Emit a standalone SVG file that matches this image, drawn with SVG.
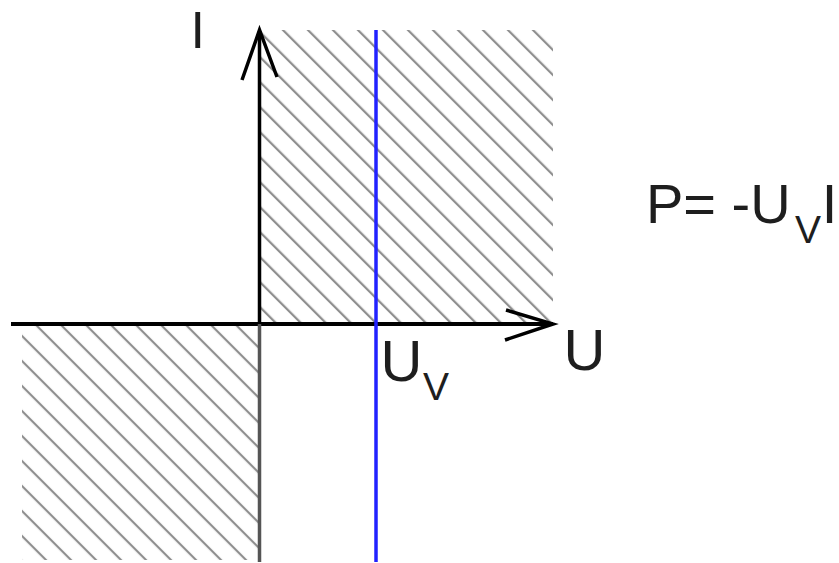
<svg xmlns="http://www.w3.org/2000/svg" width="839" height="563" viewBox="0 0 839 563">
  <style>
    .lbl { font-family: "Liberation Sans", Arial, sans-serif; fill: #1e1e1e; }
    .axis { stroke: #000; fill: none; }
  </style>
  <defs>
    <pattern id="hatchA" patternUnits="userSpaceOnUse" width="17.68" height="17.68" patternTransform="rotate(-45)">
      <rect x="1.0" y="0" width="2.2" height="17.68" fill="#8c8c8c"/>
    </pattern>
    <pattern id="hatchB" patternUnits="userSpaceOnUse" width="17.68" height="17.68" patternTransform="rotate(-45)">
      <rect x="6.7" y="0" width="2.2" height="17.68" fill="#8c8c8c"/>
    </pattern>
  </defs>
  <rect width="839" height="563" fill="#fff"/>

  <g id="region-q1">
    <rect x="259" y="30" width="294" height="294" fill="url(#hatchA)"/>
  </g>
  <g id="region-q3">
    <rect x="22" y="326" width="237" height="234" fill="url(#hatchB)"/>
  </g>

  <g id="connectors">
    <line id="u-axis" class="axis" x1="11" y1="324" x2="553" y2="324" stroke-width="4"/>
    <polyline class="axis" points="506,310 553,324 505,340" stroke-width="3.5"/>
    <line id="i-axis" class="axis" x1="259.5" y1="31" x2="259.5" y2="324" stroke-width="3.5"/>
    <line id="i-axis-neg" x1="259.5" y1="324" x2="259.5" y2="562" stroke="#555" stroke-width="3.5"/>
    <polyline class="axis" points="242,80 259.5,30 277,77" stroke-width="3.5"/>
    <line id="uv-line" x1="376" y1="30" x2="376" y2="562" stroke="#2222ff" stroke-width="3.5"/>
  </g>

  <g id="label-I">
    <text class="lbl" x="190.5" y="48" font-size="52">I</text>
  </g>
  <g id="label-U">
    <text class="lbl" x="563.5" y="370" font-size="58">U</text>
  </g>
  <g id="label-Uv">
    <text class="lbl" x="380.5" y="381" font-size="58">U</text>
    <text class="lbl" x="423" y="400" font-size="39">V</text>
  </g>
  <g id="label-formula">
    <text class="lbl" x="646" y="223" font-size="56">P= -U</text>
    <text class="lbl" x="795" y="243" font-size="39">V</text>
    <text class="lbl" x="821.7" y="223" font-size="56">I</text>
  </g>
</svg>
